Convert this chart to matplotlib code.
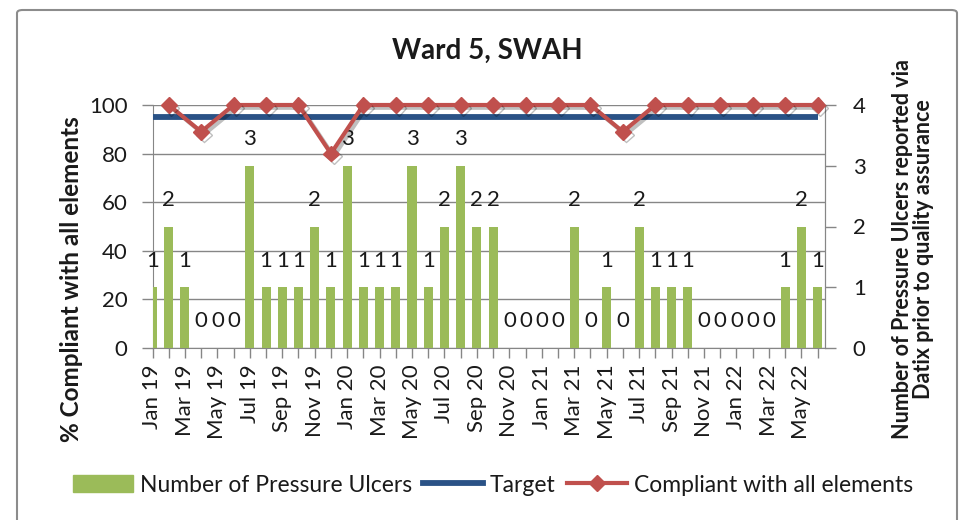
import matplotlib
matplotlib.use('Agg')
import matplotlib.pyplot as plt
import matplotlib.patheffects as pe
from matplotlib.patches import FancyBboxPatch, Patch
from matplotlib.lines import Line2D

# monthly categories, Jan 19 - Jun 22
months = ['Jan 19', 'Feb 19', 'Mar 19', 'Apr 19', 'May 19', 'Jun 19',
          'Jul 19', 'Aug 19', 'Sep 19', 'Oct 19', 'Nov 19', 'Dec 19',
          'Jan 20', 'Feb 20', 'Mar 20', 'Apr 20', 'May 20', 'Jun 20',
          'Jul 20', 'Aug 20', 'Sep 20', 'Oct 20', 'Nov 20', 'Dec 20',
          'Jan 21', 'Feb 21', 'Mar 21', 'Apr 21', 'May 21', 'Jun 21',
          'Jul 21', 'Aug 21', 'Sep 21', 'Oct 21', 'Nov 21', 'Dec 21',
          'Jan 22', 'Feb 22', 'Mar 22', 'Apr 22', 'May 22', 'Jun 22']
ulcers = [1, 2, 1, 0, 0, 0, 3, 1, 1, 1, 2, 1,
          3, 1, 1, 1, 3, 1, 2, 3, 2, 2, 0, 0,
          0, 0, 2, 0, 1, 0, 2, 1, 1, 1, 0, 0,
          0, 0, 0, 1, 2, 1]
target = [95] * len(months)

# compliance audits (every other month)
compliance_months = ['Feb 19', 'Apr 19', 'Jun 19', 'Aug 19', 'Oct 19', 'Dec 19',
                     'Feb 20', 'Apr 20', 'Jun 20', 'Aug 20', 'Oct 20', 'Dec 20',
                     'Feb 21', 'Apr 21', 'Jun 21', 'Aug 21', 'Oct 21', 'Dec 21',
                     'Feb 22', 'Apr 22', 'Jun 22']
compliance = [100, 89, 100, 100, 100, 80, 100, 100, 100, 100, 100, 100,
              100, 100, 89, 100, 100, 100, 100, 100, 100]

green = '#9BBB59'
blue = '#2A5286'
red = '#C0504D'
grey = '#868686'
txt = '#1a1a1a'
fs = 16

plt.rcParams['font.family'] = ['Lato', 'DejaVu Sans']

W, H = 961, 520
fig = plt.figure(figsize=(W / 100, H / 100), dpi=100)

# outer chart border
fig.patches.append(FancyBboxPatch((17 / W, -0.05), 940 / W, 1 - 10 / H + 0.05,
                                  boxstyle='round,pad=0,rounding_size=0.006',
                                  transform=fig.transFigure, fc='none',
                                  ec='#8c8c8c', lw=1.5))

L, R, T, B = 152.5, 825, 105, 348
ax = fig.add_axes([L / W, 1 - B / H, (R - L) / W, (B - T) / H])
x = list(range(len(months)))

# left axis: % compliant, grid
ax.set_xlim(0, 41.46)
ax.set_ylim(0, 100)
ax.set_yticks(range(0, 101, 20))
ax.grid(axis='y', color=grey, lw=1)
ax.set_axisbelow(True)
ax.set_xticks(x)
ax.set_xticklabels([m if i % 2 == 0 else '' for i, m in enumerate(months)],
                   rotation=90, fontsize=fs, color=txt)
ax.tick_params(axis='x', length=7, width=1, color=grey, pad=5)
ax.tick_params(axis='y', length=8, width=1, color=grey, pad=10, labelsize=fs,
               labelcolor=txt)
for s in ['left', 'bottom', 'right']:
    ax.spines[s].set_color(grey)
ax.spines['top'].set_visible(False)

# right axis: number of ulcers (bars)
ax2 = ax.twinx()
ax2.set_xlim(0, 41.46)
ax2.set_ylim(0, 4)
ax2.set_yticks(range(0, 5))
ax2.tick_params(axis='y', length=8, width=1, color=grey, pad=12, labelsize=fs,
                labelcolor=txt)
for s in ax2.spines.values():
    s.set_visible(False)
ax2.spines['right'].set_visible(True)
ax2.spines['right'].set_color(grey)
bars = ax2.bar(x, ulcers, width=0.56, color=green)
for xi, v in zip(x, ulcers):
    ax2.annotate(str(v), (xi, v), xytext=(0, 12), textcoords='offset points',
                 ha='center', va='bottom', fontsize=fs, color=txt)

# lines on top
ax3 = ax.twinx()
ax3.set_xlim(0, 41.46)
ax3.set_ylim(0, 100)
ax3.axis('off')
ax3.plot(x, target, color=blue, lw=4.2, solid_capstyle='butt')
cx = [months.index(m) for m in compliance_months]
ax3.plot(cx, compliance, color=red, lw=3, marker='D', ms=8, mec=red, mfc=red,
         clip_on=False,
         path_effects=[pe.SimpleLineShadow(offset=(2, -2), shadow_color='k', alpha=0.25),
                       pe.Normal()])

# titles
fig.text(487 / W, 1 - 50.5 / H, 'Ward 5, SWAH', ha='center', va='center',
         fontsize=20, fontweight='bold', color=txt)
fig.text(72 / W, 1 - 279 / H, '% Compliant with all elements', rotation=90,
         ha='center', va='center', fontsize=17.5, fontweight='bold', color=txt)
fig.text(913 / W, 1 - 249 / H,
         'Number of Pressure Ulcers reported via\nDatix prior to quality assurance',
         rotation=90, ha='center', va='center', fontsize=15.5, fontweight='bold',
         color=txt, linespacing=1.05, multialignment='center')

# legend
handles = [Patch(color=green),
           Line2D([], [], color=blue, lw=4.2),
           Line2D([], [], color=red, lw=3, marker='D', ms=8)]
labels = ['Number of Pressure Ulcers', 'Target', 'Compliant with all elements']
fig.legend(handles, labels, loc='center', bbox_to_anchor=(493 / W, 1 - 485 / H),
           ncol=3, frameon=False, fontsize=16.5, handlelength=2.6,
           handletextpad=0.3, columnspacing=0.5, labelcolor=txt)

fig.savefig('out.png', dpi=100)
